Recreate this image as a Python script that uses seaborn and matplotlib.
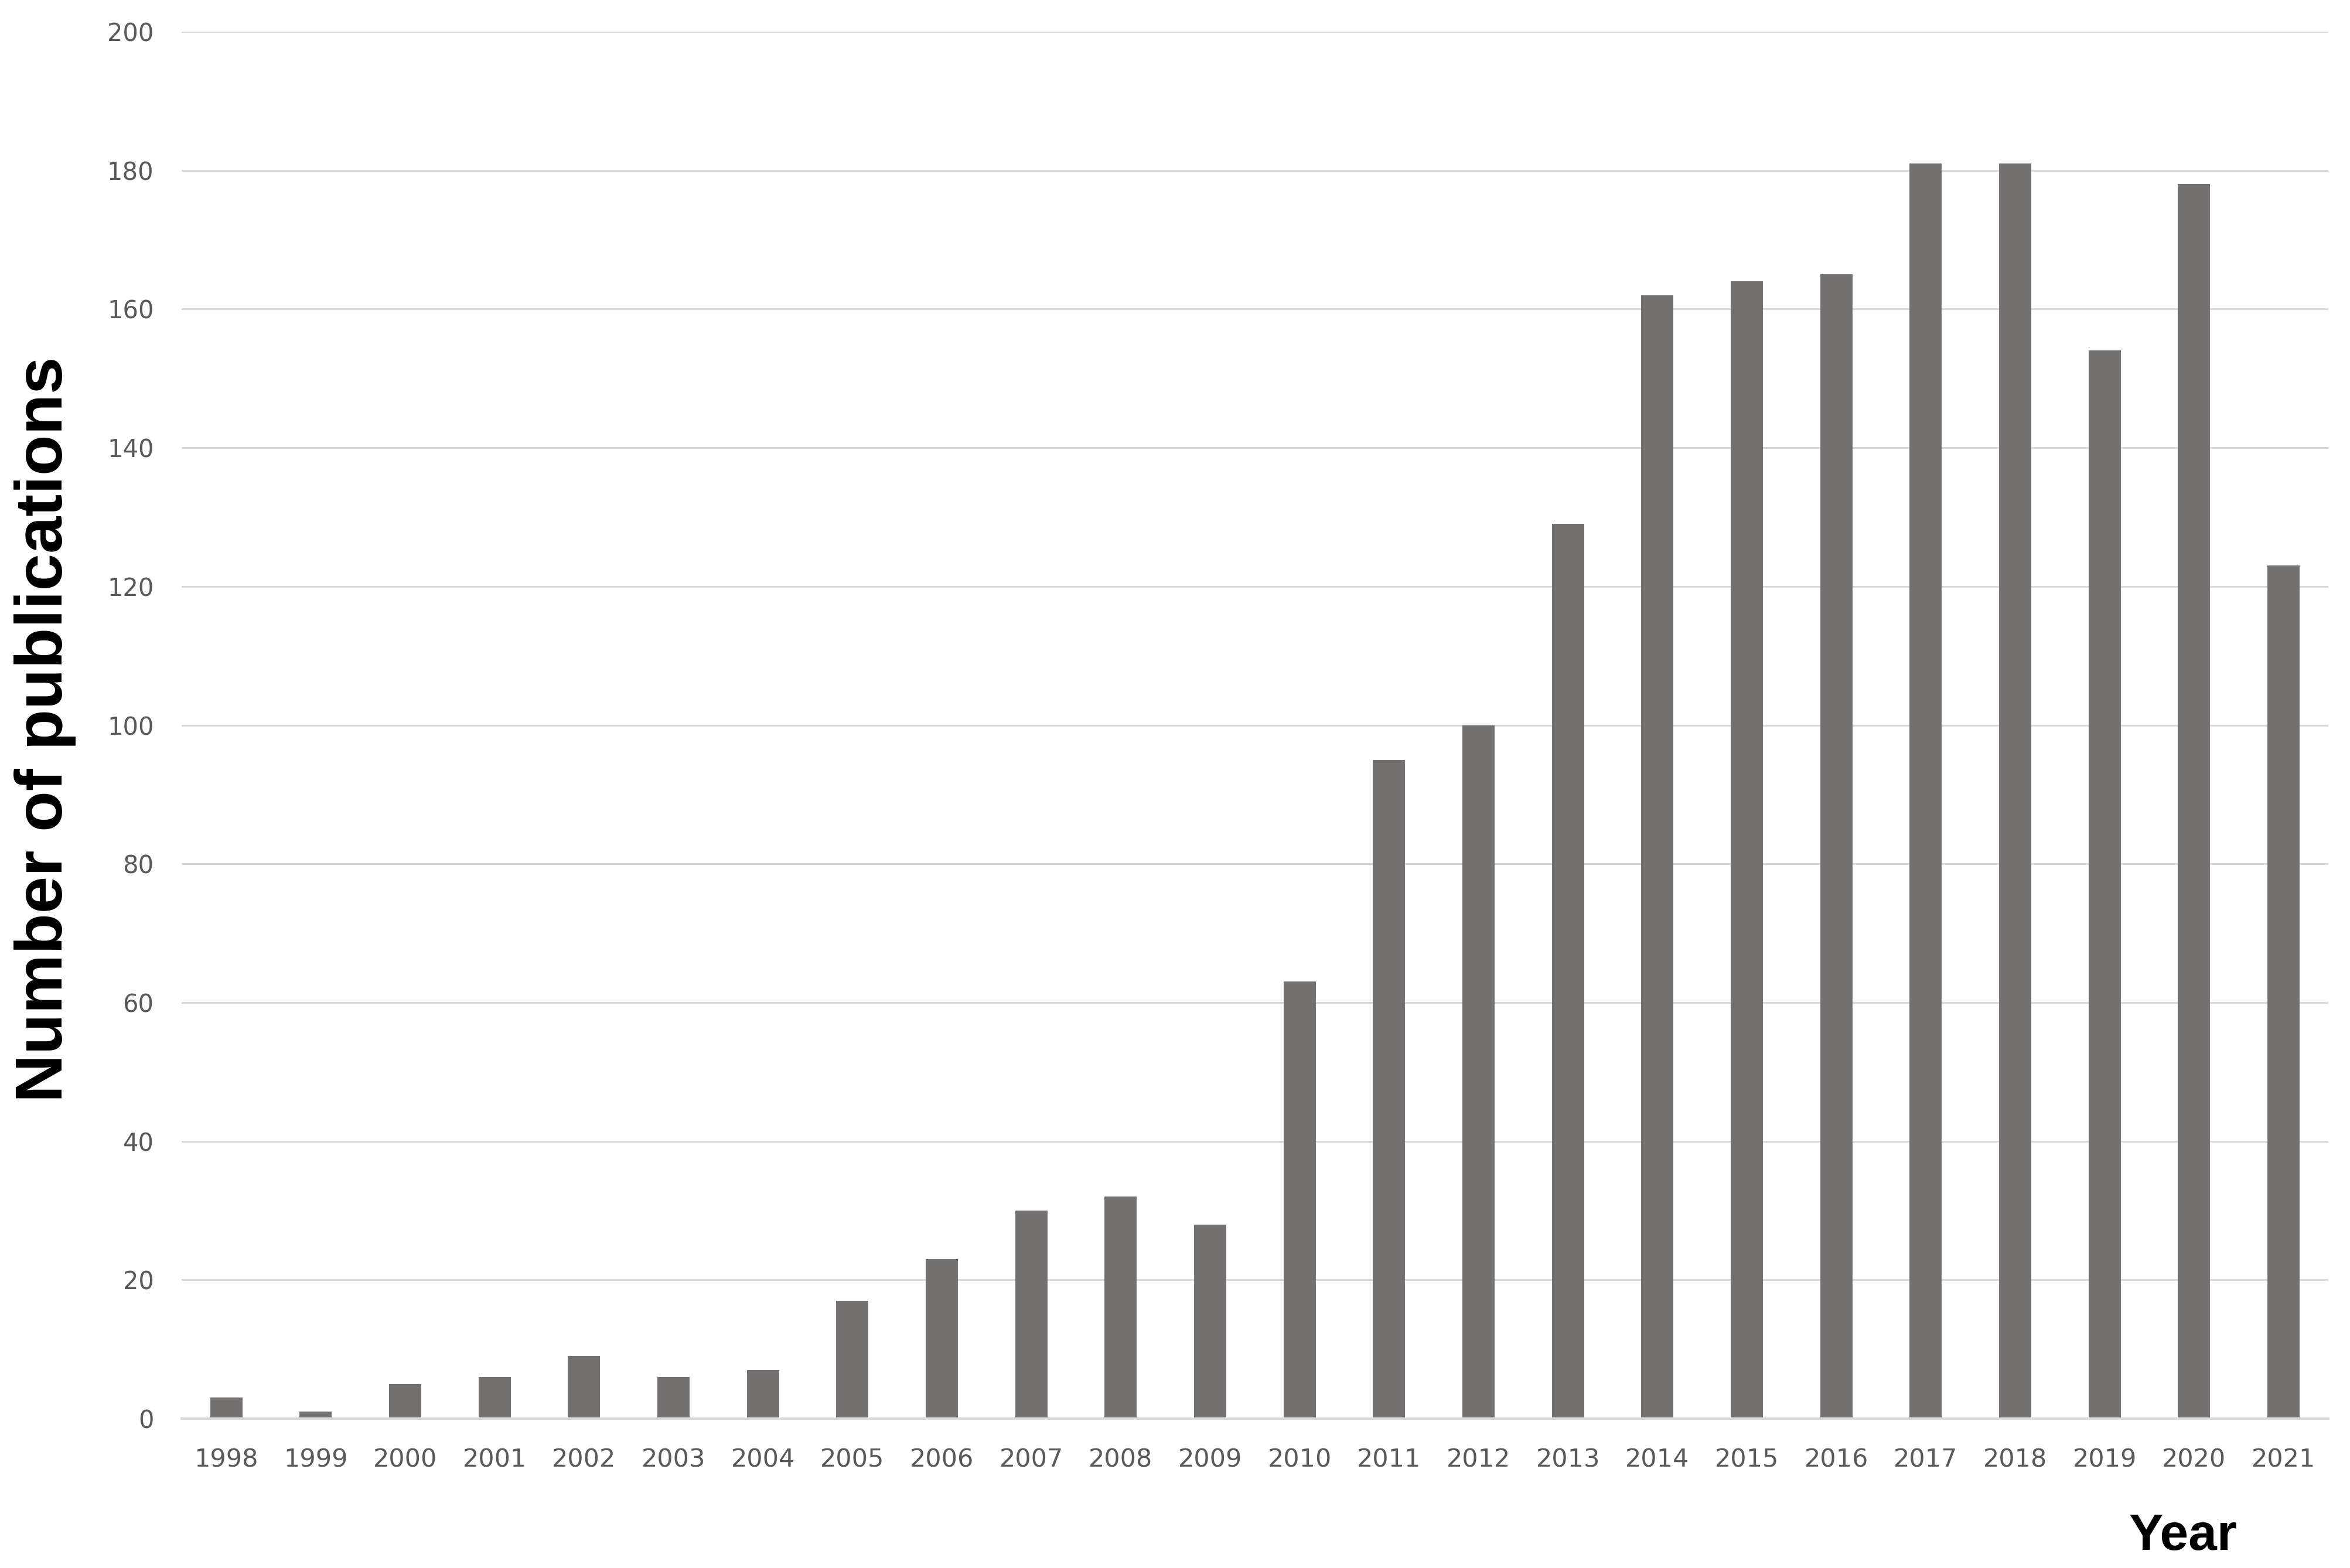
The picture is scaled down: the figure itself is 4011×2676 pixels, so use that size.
import pandas as pd
import matplotlib
matplotlib.use("Agg")
import matplotlib.pyplot as plt
import seaborn as sns

years = [str(y) for y in range(1998, 2022)]
publications = [3, 1, 5, 6, 9, 6, 7, 17, 23, 30, 32, 28, 63, 95, 100, 129,
                162, 164, 165, 181, 181, 154, 178, 123]
y_ticks = [0, 20, 40, 60, 80, 100, 120, 140, 160, 180, 200]

df = pd.DataFrame({"Year": years, "Publications": publications})

sns.set_style("white")
plt.rcParams['font.family'] = ['DejaVu Sans']

fig = plt.figure(figsize=(40.12, 26.76), dpi=100)
ax = fig.add_axes([0.0772, 0.0953, 0.9133, 0.8845])

sns.barplot(data=df, x="Year", y="Publications", order=years, color="#767171",
            saturation=1, width=0.36, edgecolor="none", ax=ax, zorder=3)

ax.set_xlim(-0.5, len(years) - 0.5)
ax.set_ylim(0, 200)
ax.set_yticks(y_ticks)
ax.yaxis.grid(True, color="#d9d9d9", linewidth=2.2, zorder=0)
ax.set_axisbelow(True)
for side in ["top", "right", "left"]:
    ax.spines[side].set_visible(False)
ax.spines["bottom"].set_color("#d9d9d9")
ax.spines["bottom"].set_linewidth(3)
ax.spines["bottom"].set_zorder(4)

ax.tick_params(axis="x", length=0, pad=36, labelsize=31, labelcolor="#595959")
ax.tick_params(axis="y", length=0, pad=34, labelsize=30, labelcolor="#595959")

ax.set_xlabel("")
ax.set_ylabel("")
fig.text(0.0192, 0.535, "Number of publications", rotation=90, ha="center", va="center",
         fontsize=82, fontweight="bold", color="black",
         family=["Liberation Sans", "DejaVu Sans"])
fig.text(0.9287, 0.0116, "Year", ha="center", va="baseline",
         fontsize=63, fontweight="bold", color="black",
         family=["Liberation Sans", "DejaVu Sans"])

fig.savefig("out.png", dpi=100, facecolor="white")
